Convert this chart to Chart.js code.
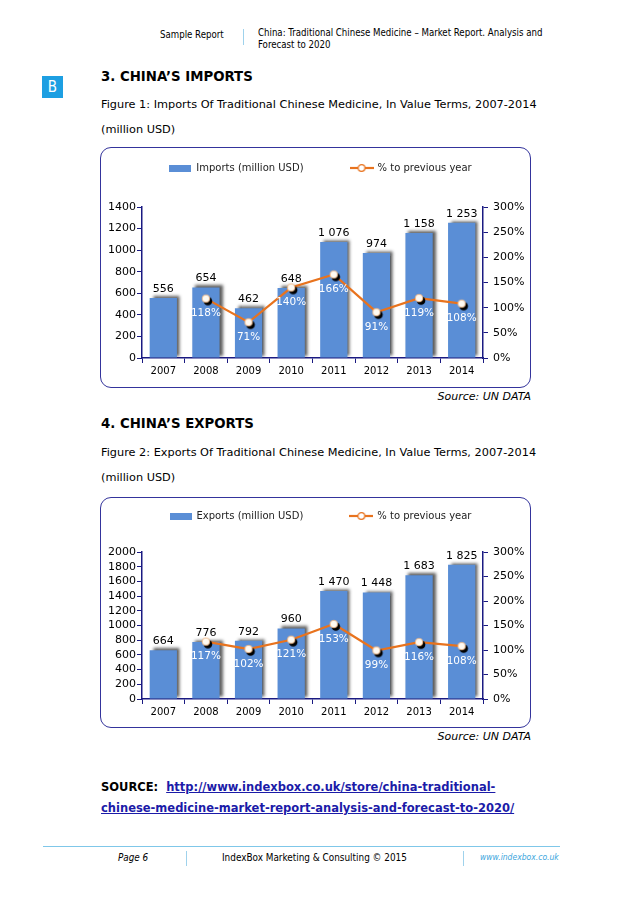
<!DOCTYPE html>
<html>
<head>
<meta charset="utf-8">
<script src="https://cdn.jsdelivr.net/npm/chart.js@4.4.1/dist/chart.umd.min.js"></script>
<style>
  body { margin: 0; background: #fff; }
  #page { position: relative; width: 638px; height: 903px; overflow: hidden; font-family: "DejaVu Sans Condensed", "DejaVu Sans", sans-serif; color: #000; }
  .t { position: absolute; white-space: nowrap; line-height: 1; }
  .box { position: absolute; border: 1.5px solid #34349c; border-radius: 11px; box-sizing: border-box; }
  .sep { position: absolute; width: 1px; background: #9fd2ec; }
  canvas { position: absolute; }
  .h { font-family: "DejaVu Sans", sans-serif; font-weight: bold; font-size: 13.3px; }
  .fig { font-family: "DejaVu Sans", sans-serif; font-size: 11.3px; }
  .src { font-family: "DejaVu Sans", sans-serif; font-style: italic; font-size: 11px; text-align: right; }
  .lnk { font-family: "DejaVu Sans", sans-serif; font-weight: bold; font-size: 11.5px; }
  a { color: #1b1ba8; }
</style>
</head>
<body>
<div id="page">
  <div class="t" style="left:160px;top:30px;font-size:9.6px;">Sample Report</div>
  <div class="sep" style="left:243px;top:29px;height:16px;"></div>
  <div class="t" style="left:258px;top:28px;font-size:9.6px;">China: Traditional Chinese Medicine – Market Report. Analysis and</div>
  <div class="t" style="left:258px;top:40px;font-size:9.6px;">Forecast to 2020</div>

  <div class="t" style="left:42px;top:76px;width:21px;height:22px;background:#1d9fe2;color:#fff;font-size:15px;line-height:22px;text-align:center;">B</div>

  <div class="t h" style="left:101px;top:70px;">3. CHINA’S IMPORTS</div>
  <div class="t fig" style="left:101px;top:99px;">Figure 1: Imports Of Traditional Chinese Medicine, In Value Terms, 2007-2014</div>
  <div class="t fig" style="left:101px;top:124px;">(million USD)</div>

  <div class="box" style="left:100px;top:147px;width:431px;height:241px;"></div>
  <canvas id="importsChart" width="431" height="241" style="left:100px;top:147px;"></canvas>
  <div class="t src" style="left:331px;width:200px;top:391px;">Source: UN DATA</div>

  <div class="t h" style="left:101px;top:417px;">4. CHINA’S EXPORTS</div>
  <div class="t fig" style="left:101px;top:447px;">Figure 2: Exports Of Traditional Chinese Medicine, In Value Terms, 2007-2014</div>
  <div class="t fig" style="left:101px;top:472px;">(million USD)</div>

  <div class="box" style="left:100px;top:497px;width:431px;height:231px;"></div>
  <canvas id="exportsChart" width="431" height="231" style="left:100px;top:497px;"></canvas>
  <div class="t src" style="left:331px;width:200px;top:731px;">Source: UN DATA</div>

  <div class="t lnk" style="left:101px;top:782px;">SOURCE:&nbsp; <a href="#">http://www.indexbox.co.uk/store/china-traditional-</a></div>
  <div class="t lnk" style="left:101px;top:803px;"><a href="#">chinese-medicine-market-report-analysis-and-forecast-to-2020/</a></div>

  <div style="position:absolute;left:43px;top:846px;width:517px;height:1px;background:#7fc7e9;"></div>
  <div class="t" style="left:118px;top:853px;font-size:9.8px;font-style:italic;">Page 6</div>
  <div class="sep" style="left:186px;top:851px;height:15px;"></div>
  <div class="t" style="left:222px;top:853px;font-size:9.9px;">IndexBox Marketing &amp; Consulting © 2015</div>
  <div class="sep" style="left:463px;top:851px;height:15px;"></div>
  <div class="t" style="left:480px;top:853px;font-size:8.5px;font-style:italic;color:#3aa5dc;">www.indexbox.co.uk</div>
</div>

<script>
// data
const years = ["2007", "2008", "2009", "2010", "2011", "2012", "2013", "2014"];
const imports = [556, 654, 462, 648, 1076, 974, 1158, 1253];
const importsGrowth = [null, 118, 71, 140, 166, 91, 119, 108];
const exportValues = [664, 776, 792, 960, 1470, 1448, 1683, 1825];
const exportsGrowth = [null, 117, 102, 121, 153, 99, 116, 108];
const importsMax = 1400;
const exportsMax = 2000;
const growthMax = 300;

const barColor = "#5a8ed6";
const lineColor = "#e8731e";
const axisColor = "#1a1a82";

Chart.defaults.font.family = "'DejaVu Sans', sans-serif";
Chart.defaults.color = "#000";

function spaced(v) {
  return String(v).replace(/\B(?=(\d{3})+(?!\d))/g, " ");
}

// little pictures for legend + points
function barSwatch() {
  const c = document.createElement("canvas");
  c.width = 22; c.height = 7;
  const g = c.getContext("2d");
  g.fillStyle = barColor;
  g.fillRect(0, 0, 22, 7);
  return c;
}

function lineSwatch() {
  const c = document.createElement("canvas");
  c.width = 24; c.height = 10;
  const g = c.getContext("2d");
  g.strokeStyle = lineColor;
  g.lineWidth = 2.2;
  g.beginPath(); g.moveTo(0, 5); g.lineTo(24, 5); g.stroke();
  g.fillStyle = "#fff";
  g.lineWidth = 1.2;
  g.beginPath(); g.arc(12, 5, 3.4, 0, Math.PI * 2); g.fill(); g.stroke();
  return c;
}

function dotImage() {
  const c = document.createElement("canvas");
  c.width = 16; c.height = 16;
  const g = c.getContext("2d");
  g.fillStyle = "#000";
  g.beginPath(); g.arc(10, 10.5, 4.3, 0, Math.PI * 2); g.fill();
  g.fillStyle = "#fffaf2";
  g.strokeStyle = "#f3b27a";
  g.lineWidth = 0.8;
  g.beginPath(); g.arc(8, 8, 3.8, 0, Math.PI * 2); g.fill(); g.stroke();
  return c;
}

const swatches = [barSwatch(), lineSwatch()];
const dot = dotImage();

// fixed legend band, and move the row so the big item gap doesn't push it down
const legendSpot = {
  id: "legendSpot",
  beforeLayout(chart, args, opts) {
    const lg = chart.legend;
    if (lg && !lg._fixed) {
      const fit = lg.fit;
      lg.fit = function () { fit.call(this); this.height = opts.height; };
      lg._fixed = true;
    }
  },
  afterLayout(chart, args, opts) {
    const lg = chart.legend;
    const pad = chart.options.plugins.legend.labels.padding;
    lg.top = opts.textY - pad - 5;
    lg.left += opts.shiftX;
    lg.right += opts.shiftX;
  }
};

const barShadow = {
  id: "barShadow",
  beforeDatasetDraw(chart, args) {
    if (args.index !== 0) return;
    const ctx = chart.ctx;
    ctx.save();
    ctx.shadowColor = "rgba(40,40,40,0.75)";
    ctx.shadowOffsetX = 3;
    ctx.shadowOffsetY = -2;
    ctx.shadowBlur = 3;
  },
  afterDatasetDraw(chart, args) {
    if (args.index !== 0) return;
    chart.ctx.restore();
  }
};

const valueLabels = {
  id: "valueLabels",
  afterDatasetsDraw(chart) {
    const ctx = chart.ctx;
    ctx.save();
    ctx.textAlign = "center";
    ctx.textBaseline = "middle";
    ctx.font = "11px 'DejaVu Sans'";
    ctx.fillStyle = "#000";
    chart.getDatasetMeta(0).data.forEach((bar, i) => {
      ctx.fillText(spaced(chart.data.datasets[0].data[i]), bar.x, bar.y - 9);
    });
    ctx.font = "10.5px 'DejaVu Sans'";
    ctx.fillStyle = "#fff";
    chart.getDatasetMeta(1).data.forEach((pt, i) => {
      const v = chart.data.datasets[1].data[i];
      if (v == null) return;
      ctx.fillText(v + "%", pt.x, pt.y + 15);
    });
    ctx.restore();
  }
};

function makeChart(id, label, values, growth, max, textY, legendH, bottomH) {
  const el = document.getElementById(id);
  return new Chart(el, {
    type: "bar",
    data: {
      labels: years,
      datasets: [
        {
          label: label,
          data: values,
          backgroundColor: barColor,
          barPercentage: 0.64,
          categoryPercentage: 1,
          yAxisID: "y",
          order: 1
        },
        {
          type: "line",
          label: "% to previous year",
          data: growth,
          borderColor: lineColor,
          borderWidth: 2.2,
          pointStyle: dot,
          pointRadius: 4,
          yAxisID: "y1",
          order: 0
        }
      ]
    },
    options: {
      responsive: false,
      animation: false,
      layout: { padding: 0 },
      plugins: {
        legendSpot: { height: legendH, textY: textY, shiftX: 5 },
        tooltip: { enabled: false },
        legend: {
          labels: {
            usePointStyle: true,
            pointStyleWidth: 22,
            padding: 47,
            color: "#222",
            font: { size: 10 },
            generateLabels: (chart) => chart.data.datasets.map((ds, i) => ({
              text: ds.label,
              pointStyle: swatches[i],
              datasetIndex: i,
              fontColor: "#222",
              fillStyle: "transparent",
              strokeStyle: "transparent",
              lineWidth: 0,
              hidden: false
            }))
          }
        }
      },
      scales: {
        x: {
          grid: { drawOnChartArea: false, tickLength: 5, color: axisColor, offset: true },
          border: { color: axisColor, width: 1.5 },
          ticks: { font: { size: 10 }, padding: 2, maxRotation: 0, color: "#000" },
          afterFit: (s) => { s.height = bottomH; }
        },
        y: {
          position: "left",
          min: 0,
          max: max,
          grid: { drawOnChartArea: false, tickLength: 5, color: axisColor },
          border: { color: axisColor, width: 1.5 },
          ticks: { stepSize: 200, autoSkip: false, font: { size: 11 }, padding: 1, color: "#000", callback: (v) => String(v) },
          afterFit: (s) => { s.width = 42; }
        },
        y1: {
          position: "right",
          min: 0,
          max: growthMax,
          grid: { drawOnChartArea: false, tickLength: 5, color: axisColor },
          border: { color: axisColor, width: 1.5 },
          ticks: { stepSize: 50, autoSkip: false, font: { size: 11 }, padding: 5, color: "#000", callback: (v) => v + "%" },
          afterFit: (s) => { s.width = 48; }
        }
      }
    },
    plugins: [legendSpot, barShadow, valueLabels]
  });
}

makeChart("importsChart", "Imports (million USD)", imports, importsGrowth, importsMax, 21, 60, 30);
makeChart("exportsChart", "Exports (million USD)", exportValues, exportsGrowth, exportsMax, 19, 55, 29);
</script>
</body>
</html>
